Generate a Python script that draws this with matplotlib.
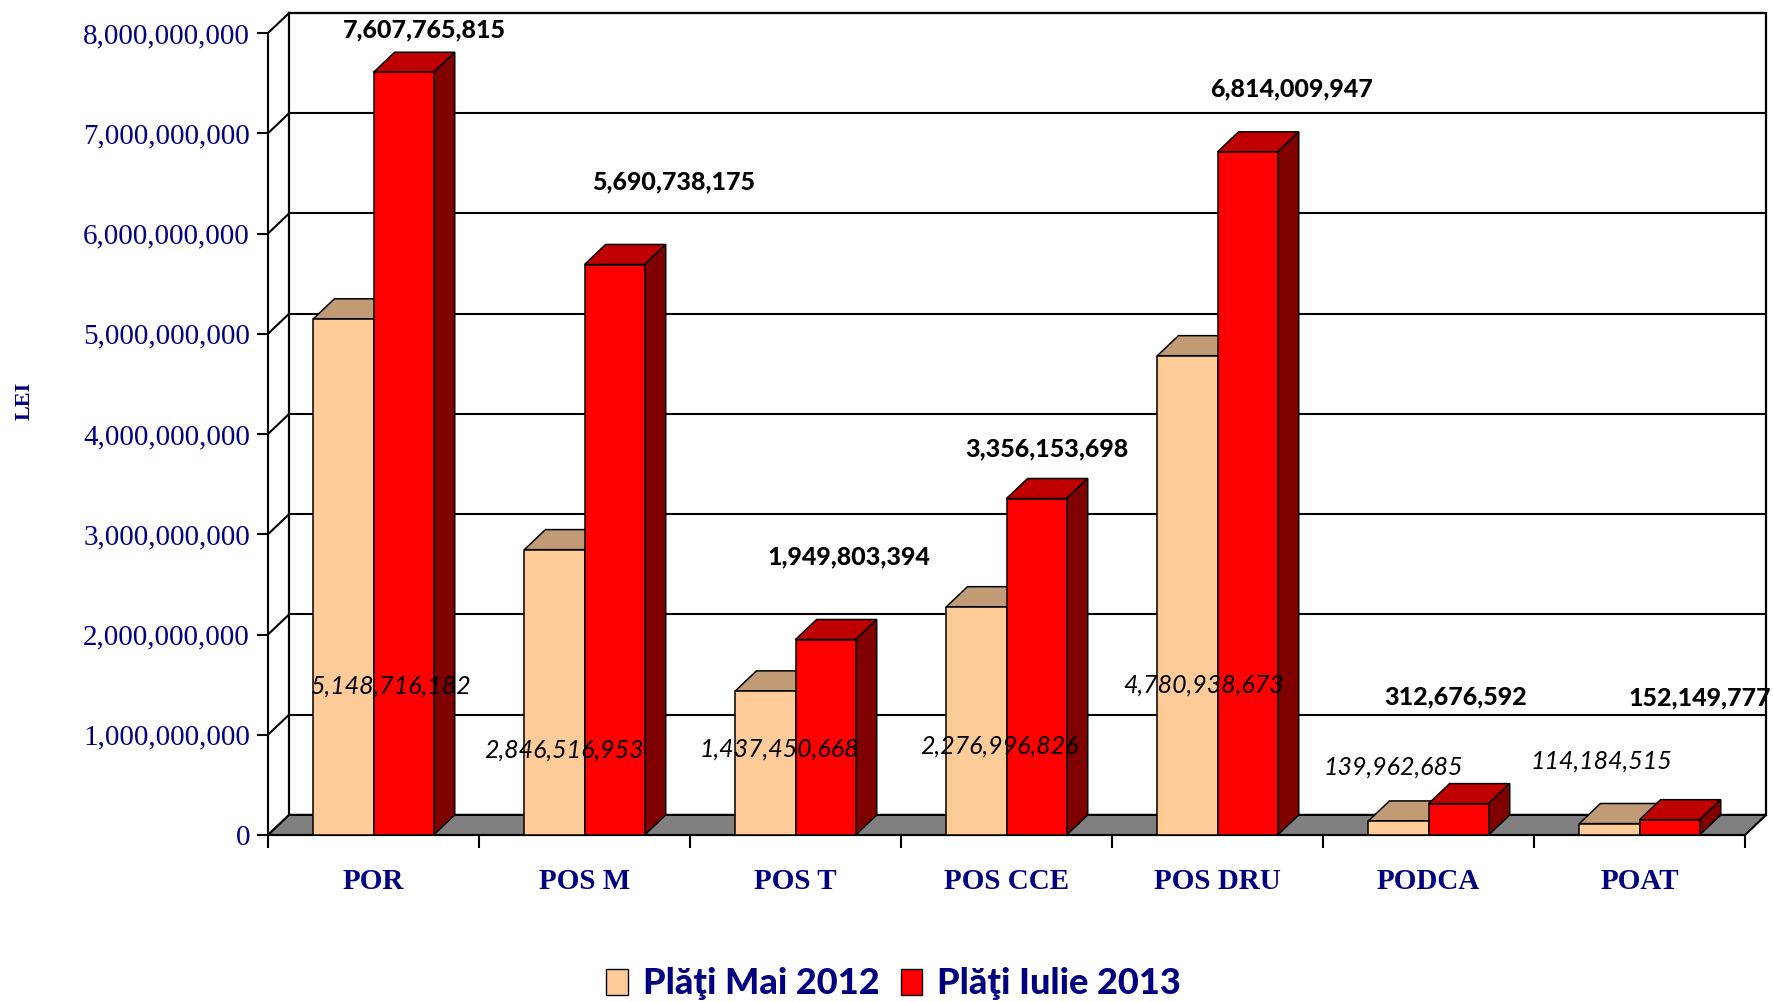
import matplotlib.pyplot as plt
from matplotlib.patches import Polygon, Patch
from matplotlib.ticker import FuncFormatter

categories = ["POR", "POS M", "POS T", "POS CCE", "POS DRU", "PODCA", "POAT"]
plati_mai_2012 = [5148716182, 2846516953, 1437450668, 2276996826, 4780938673, 139962685, 114184515]
plati_iulie_2013 = [7607765815, 5690738175, 1949803394, 3356153698, 6814009947, 312676592, 152149777]
series_names = ["Plăţi Mai 2012", "Plăţi Iulie 2013"]
y_ticks = [0, 1e9, 2e9, 3e9, 4e9, 5e9, 6e9, 7e9, 8e9]

# label offsets in pixels from the front-top centre of each bar (Excel placement)
off_mai = [(48, -367), (10, -200), (14, -58), (23, -139), (16, -329), (-5, 54), (-8, 62)]
off_iul = [(21, 42), (59, 83), (23, 83), (10, 50), (44, 63), (-3, 107), (30, 122)]

NAVY = "#000080"
W = 0.285           # bar width (category units)
DX, DY = 0.1, 0.2e9  # 3d depth offset

fig = plt.figure(figsize=(17.73, 10.02), dpi=100)
ax = fig.add_axes([268/1773, (1002-835)/1002, (1745-268)/1773, (835-33)/1002])
ax.set_xlim(-0.5, len(categories)-0.5); ax.set_ylim(0, 8e9)
n = len(categories)

def poly(pts, fc, z, lw=1.1):
    ax.add_patch(Polygon(pts, closed=True, facecolor=fc, edgecolor="black", lw=lw, zorder=z, clip_on=False))

# back wall + gridlines
x0, x1 = -0.5, n-0.5
poly([(x0+DX, DY), (x1+DX, DY), (x1+DX, 8e9+DY), (x0+DX, 8e9+DY)], "white", 0, 1.6)
for t in y_ticks:
    ax.plot([x0+DX, x1+DX], [t+DY, t+DY], color="black", lw=1.5, zorder=1, clip_on=False)
    ax.plot([x0, x0+DX], [t, t+DY], color="black", lw=1.5, zorder=1, clip_on=False)
# floor
poly([(x0, 0), (x1, 0), (x1+DX, DY), (x0+DX, DY)], "#808080", 2, 1.5)

# bars
xs = list(range(n))
for vals, left, front, top, side, z in [
        (plati_mai_2012, -W, "#FFCC99", "#C19B75", "#8C6E50", 3),
        (plati_iulie_2013, 0, "#FF0000", "#C00000", "#800000", 5)]:
    ax.bar([x + left for x in xs], vals, width=W, align="edge", color=front, edgecolor="black",
           lw=1.1, zorder=z+0.5)
    for x, v in zip(xs, vals):
        a, b = x + left, x + left + W
        poly([(a, v), (b, v), (b+DX, v+DY), (a+DX, v+DY)], top, z)
        poly([(b, 0), (b+DX, DY), (b+DX, v+DY), (b, v)], side, z)

for x, v, (dx, dy) in zip(xs, plati_mai_2012, off_mai):
    ax.annotate(f"{v:,}", (x - W/2, v), xytext=(dx, dy), textcoords="offset pixels",
                ha="center", va="center", fontsize=18, style="italic", family=["Lato", "DejaVu Sans"],
                color="black", zorder=10, annotation_clip=False)
for x, v, (dx, dy) in zip(xs, plati_iulie_2013, off_iul):
    ax.annotate(f"{v:,}", (x + W/2, v), xytext=(dx, dy), textcoords="offset pixels",
                ha="center", va="center", fontsize=18, fontweight="black", family=["Lato", "DejaVu Sans"],
                color="black", zorder=10, annotation_clip=False)

# axes styling
for s in ["top", "right"]:
    ax.spines[s].set_visible(False)
ax.spines["left"].set_linewidth(1.5); ax.spines["bottom"].set_linewidth(1.5)
ax.set_yticks(y_ticks)
ax.yaxis.set_major_formatter(FuncFormatter(lambda v, p: f"{int(v):,}"))
ax.tick_params(axis="y", length=8, width=1.5, pad=5, labelsize=21, labelcolor=NAVY)
for lab in ax.get_yticklabels():
    lab.set_family("Liberation Serif")
ax.set_xticks([i - 0.5 for i in range(n + 1)])
ax.set_xticklabels([])
ax.tick_params(axis="x", which="major", length=9.5, width=1.5)
ax.set_xticks(xs, minor=True)
ax.set_xticklabels(categories, minor=True, fontsize=21, fontweight="bold", family="Liberation Serif", color=NAVY)
ax.tick_params(axis="x", which="minor", length=0, pad=24)
ax.patch.set_visible(False)

fig.text(25/1773, 1-401/1002, "LEI", rotation=90, ha="center", va="center", fontsize=16,
         fontweight="bold", family="Liberation Serif", color=NAVY)

handles = [Patch(facecolor="#FFCC99", edgecolor="black"), Patch(facecolor="#FF0000", edgecolor="black")]
fig.legend(handles, series_names, loc="center", bbox_to_anchor=(0.504, 1-984/1002), ncol=2, frameon=False,
           prop={"family": ["Lato", "DejaVu Sans"], "weight": "black", "size": 26},
           labelcolor=NAVY, handlelength=0.6, handleheight=0.75, handletextpad=0.4, columnspacing=0.6)

fig.savefig("out.png", dpi=100)
